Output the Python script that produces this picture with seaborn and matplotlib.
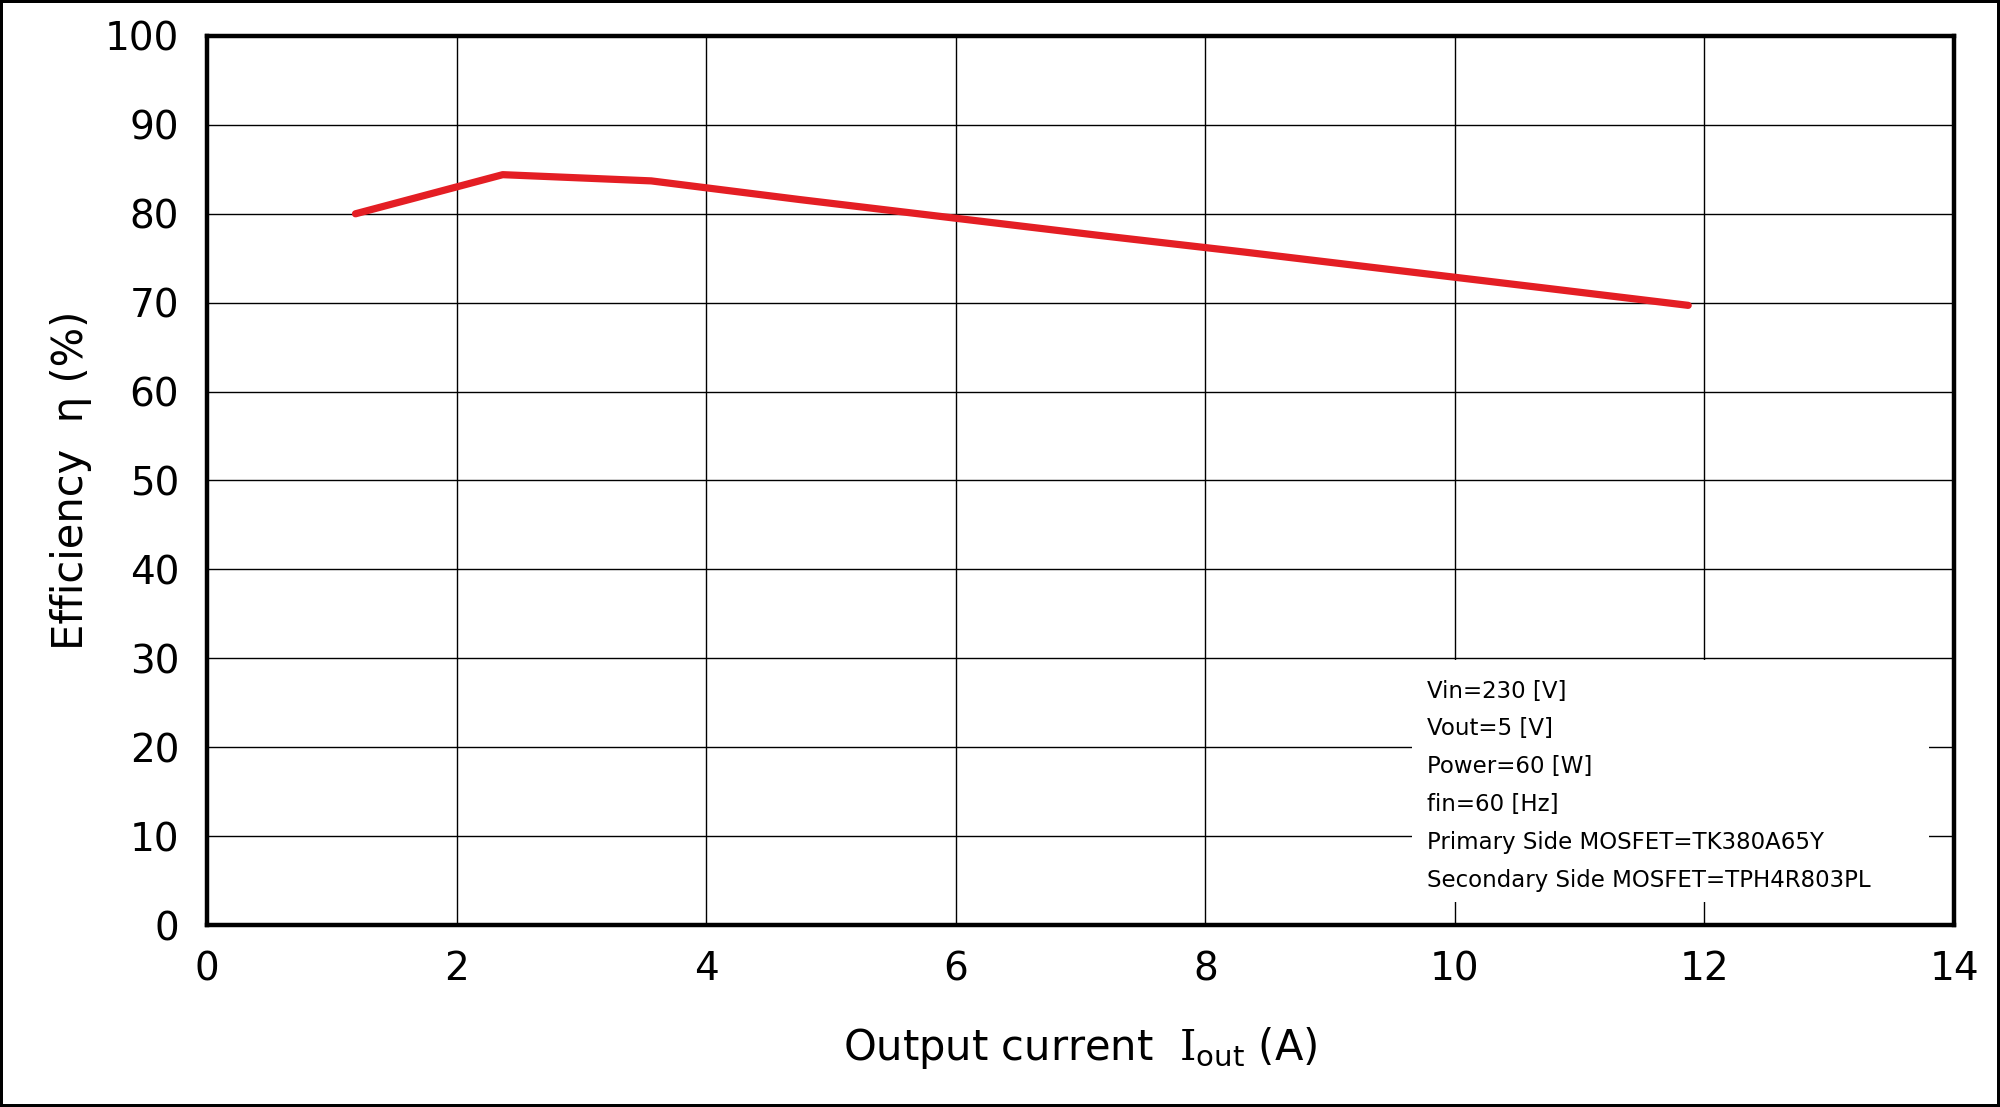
import numpy as np
import pandas as pd
import matplotlib.pyplot as plt
import matplotlib.patches as mpatches
import seaborn as sns

# Efficiency curve
current = [1.19, 2.37, 3.56, 4.75, 5.94, 7.13, 8.31, 9.50, 10.69, 11.87]
efficiency = [80.0, 84.4, 83.7, 81.6, 79.6, 77.6, 75.7, 73.7, 71.7, 69.7]

conditions = [
    'Vin=230 [V]',
    'Vout=5 [V]',
    'Power=60 [W]',
    'fin=60 [Hz]',
    'Primary Side MOSFET=TK380A65Y',
    'Secondary Side MOSFET=TPH4R803PL',
]

xticks = list(range(0, 15, 2))
yticks = list(range(0, 101, 10))

sns.set_style('white')
plt.rcParams['font.family'] = ['DejaVu Sans']
plt.rcParams['mathtext.fontset'] = 'dejavuserif'
plt.rcParams['text.color'] = 'black'
plt.rcParams['axes.labelcolor'] = 'black'

df = pd.DataFrame({'current': current, 'efficiency': efficiency})

fig = plt.figure(figsize=(20, 11.07), dpi=100, facecolor='white',
                 edgecolor='black', linewidth=3)
ax = fig.add_axes([0.1035, 0.1644, 0.8735, 0.8031])

sns.lineplot(data=df, x='current', y='efficiency', ax=ax, color='#e41e24',
             lw=5.2, solid_capstyle='round', solid_joinstyle='round', zorder=5)

ax.set_xlim(0, 14)
ax.set_ylim(0, 100)
ax.set_xticks(xticks)
ax.set_yticks(yticks)
ax.grid(True, color='black', lw=1.0)
ax.set_axisbelow(True)
for sp in ax.spines.values():
    sp.set_color('black')
    sp.set_linewidth(3.2)
    sp.set_zorder(10)
ax.tick_params(axis='both', length=0, labelsize=28, colors='black')
ax.tick_params(axis='y', pad=20)
ax.tick_params(axis='x', pad=18)

ax.set_xlabel(r'Output current  $\mathrm{I}_{\mathsf{out}}$ (A)', fontsize=30)
ax.set_ylabel('Efficiency  η (%)', fontsize=30)
ax.xaxis.set_label_coords(0.5, -0.112)
ax.yaxis.set_label_coords(-0.066, 0.5)

# white box behind the operating conditions
box = mpatches.Rectangle((9.66, 2.6), 13.8 - 9.66, 29.8 - 2.6, facecolor='white',
                         edgecolor='none', zorder=3)
ax.add_patch(box)
for i, line in enumerate(conditions):
    ax.text(9.78, 26.3 - i * 4.25, line, fontsize=16.5, va='center', ha='left',
            color='black', zorder=4)

fig.savefig('out.png', dpi=100)
